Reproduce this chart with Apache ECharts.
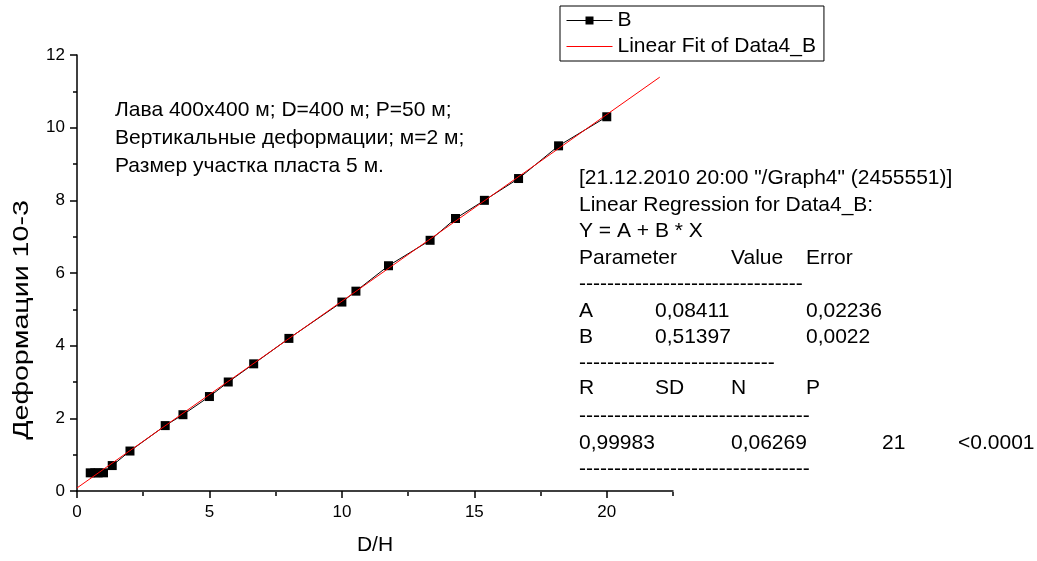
<!DOCTYPE html>
<html>
<head>
<meta charset="utf-8">
<script src="https://cdn.jsdelivr.net/npm/echarts@6/dist/echarts.min.js"></script>
<style>
html, body { margin: 0; padding: 0; background: #fff; }
#chart { width: 1037px; height: 561px; }
</style>
</head>
<body>
<div id="chart"></div>
<script>
// D/H values and deformations (10-3)
const xB = [0.5, 0.67, 0.8, 1.0, 1.33, 2.0, 3.33, 4.0, 5.0, 5.71, 6.67, 8.0, 10.0, 10.53, 11.76, 13.33, 14.29, 15.38, 16.67, 18.18, 20.0]
const yB = [0.5, 0.5, 0.5, 0.5, 0.7, 1.1, 1.8, 2.1, 2.6, 3.0, 3.5, 4.2, 5.2, 5.5, 6.2, 6.9, 7.5, 8.0, 8.6, 9.5, 10.3]
// ends of the linear fit line
const fitX = [0, 22]
const fitY = [0.084, 11.39]
const xMajor = [0, 5, 10, 15, 20]

const noteLines = [
  'Лава 400x400 м; D=400 м; P=50 м;',
  'Вертикальные деформации; м=2 м;',
  'Размер участка пласта 5 м.'
]
const regRows = [
  ['[21.12.2010 20:00 "/Graph4" (2455551)]'],
  ['Linear Regression for Data4_B:'],
  ['Y = A + B * X'],
  ['Parameter', '', 'Value', 'Error'],
  ['-'.repeat(32)],
  ['A', '0,08411', '', '0,02236'],
  ['B', '0,51397', '', '0,0022'],
  ['-'.repeat(28)],
  ['R', 'SD', 'N', 'P'],
  ['-'.repeat(33)],
  ['0,99983', '', '0,06269', '', '21', '<0.0001'],
  ['-'.repeat(33)]
]
const regRowY = [178, 205, 231, 258, 284, 311, 337, 363, 388, 416, 443, 469]
const regColX = [579, 655, 731, 806, 882, 958]

const FONT = 'Arial, "Liberation Sans", sans-serif'
const chart = echarts.init(document.getElementById('chart'))

const graphics = [
  // y title is a bit stretched along its length in the source
  { type: 'text', x: 22, y: 320, rotation: Math.PI / 2, scaleX: 1.3,
    style: { text: 'Деформации 10-3', fontSize: 22, fontFamily: FONT, fill: '#000', align: 'center', verticalAlign: 'middle' } },
  { type: 'text', x: 115, y: 96,
    style: { text: noteLines.join('\n'), fontSize: 21, lineHeight: 28, fontFamily: FONT, fill: '#000', verticalAlign: 'top' } }
]
regRows.forEach((row, r) => {
  row.forEach((t, c) => {
    if (!t) return
    graphics.push({ type: 'text', x: regColX[c], y: regRowY[r],
      style: { text: t, fontSize: 21, fontFamily: FONT, fill: '#000', verticalAlign: 'middle' } })
  })
})

const tickStyle = { color: '#000', width: 1.5 }

chart.setOption({
  animation: false,
  backgroundColor: '#fff',
  textStyle: { fontFamily: FONT },
  grid: [
    { left: 77, right: 364, top: 55, bottom: 69 },
    { left: 77, right: 364, top: 55, bottom: 69 }
  ],
  legend: {
    orient: 'vertical', left: 560, top: 6, padding: [4, 8, 4, 6], itemGap: 5,
    itemWidth: 46, itemHeight: 10, borderColor: '#000', borderWidth: 1,
    textStyle: { fontSize: 21, color: '#000', fontFamily: FONT },
    data: [
      { name: 'B', lineStyle: { width: 1 } },
      { name: 'Linear Fit of Data4_B', itemStyle: { opacity: 0 }, lineStyle: { width: 1 } }
    ]
  },
  xAxis: [
    { type: 'value', gridIndex: 0, min: 0, max: 22.5, interval: 5,
      axisLine: { lineStyle: tickStyle }, splitLine: { show: false },
      axisTick: { customValues: xMajor, length: 7, lineStyle: tickStyle },
      axisLabel: { customValues: xMajor, fontSize: 17, color: '#000', margin: 13 },
      name: 'D/H', nameLocation: 'middle', nameGap: 44,
      nameTextStyle: { fontSize: 21, color: '#000' } },
    { type: 'value', gridIndex: 1, min: 0, max: 22.5, interval: 2.5,
      axisLine: { show: false }, splitLine: { show: false }, axisLabel: { show: false },
      axisTick: { length: 4, lineStyle: tickStyle } }
  ],
  yAxis: [
    { type: 'value', gridIndex: 0, min: 0, max: 12, interval: 2,
      axisLine: { show: true, lineStyle: tickStyle }, splitLine: { show: false },
      axisTick: { show: true, length: 7, lineStyle: tickStyle },
      minorTick: { show: true, splitNumber: 2, length: 4, lineStyle: tickStyle },
      axisLabel: { fontSize: 17, color: '#000', margin: 12 } },
    { type: 'value', gridIndex: 1, min: 0, max: 12, show: false }
  ],
  series: [
    { name: 'B', type: 'line', xAxisIndex: 0, yAxisIndex: 0,
      data: xB.map((x, i) => [x, yB[i]]),
      symbol: 'rect', symbolSize: 9, itemStyle: { color: '#000' },
      lineStyle: { color: '#000', width: 1 }, z: 3 },
    { name: 'Linear Fit of Data4_B', type: 'line', xAxisIndex: 0, yAxisIndex: 0,
      data: fitX.map((x, i) => [x, fitY[i]]),
      symbol: 'none', itemStyle: { color: '#ff0000' },
      lineStyle: { color: '#ff0000', width: 1 }, z: 4 }
  ],
  graphic: graphics
})
window.addEventListener('resize', () => chart.resize())
</script>
</body>
</html>
